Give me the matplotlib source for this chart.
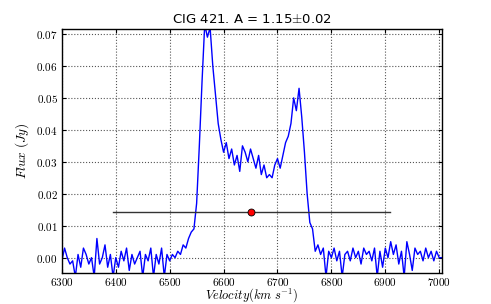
import numpy as np
import matplotlib
matplotlib.use('Agg')
import matplotlib.pyplot as plt
from matplotlib.ticker import FuncFormatter

plt.rcParams['mathtext.fontset'] = 'cm'

# HI profile, flux in mJy, one channel every 5 km/s starting at 6300 km/s
v_start = 6300
v_step = 5
flux_mjy = [
    -1, 3, 0, -2, -1, -6, 1, -3, 3, 1, -2, 0, -6, 6, -2, 0, 4, -3, 1, -6,   # 6300-6395
    0, -3, 2, -1, 3, -4, 1, -2, 0, 2, -6, 1, -1, 3, -6, 1, -2, 3, -6, 1,    # 6400-6495
    -1, 1, 0, 2, 1, 4, 3, 6, 8, 9,                                          # 6500-6545
    17, 35, 55, 73, 69, 72, 60, 51, 42, 37,                                 # 6550-6595
    33, 36, 31, 34, 29, 32, 27, 35, 33, 30, 34, 31, 28, 32, 26, 29, 25, 26, 25, 29,  # 6600-6695
    31, 28, 32, 36, 38, 42, 50, 46, 53, 44, 33, 20, 11, 9, 2, 4, 1, 3, -6, 2,        # 6700-6795
    0, 3, -1, 2, -6, 1, 2, -1, 3, 0, 2, -2, 3, 1, 2, -1, 3, -6, 2, -3,      # 6800-6895
    3, 0, 5, 1, 4, -2, 2, -6, 5, 1, -4, 3, 1, 2, -1, 3, 0, 2, -1, 2,        # 6900-6995
    0, 0,                                                                   # 7000-7005
]

# W20 width bar and central velocity
w_lo, w_hi = 6395, 6908
v_centre = 6651
bar_level = 0.0144
title = r'CIG 421. A = 1.15$\pm$0.02'

velocity = v_start + v_step * np.arange(len(flux_mjy))
flux = np.array(flux_mjy) / 1000.0

fig = plt.figure(figsize=(4.91, 3.04), dpi=100)
ax = fig.add_axes([0.126, 0.102, 0.774, 0.803])

ax.plot(velocity, flux, color='#0000ff', lw=1.0)
ax.plot([w_lo, w_hi], [bar_level, bar_level], color='#333333', lw=1.0)
ax.plot([v_centre], [bar_level], 'o', color='red', mec='black', mew=0.6, ms=5)

ax.set_xlim(6300, 7005)
ax.set_ylim(-0.0048, 0.0716)
ax.set_xticks(np.arange(6300, 7001, 100))
ax.set_yticks(np.arange(0, 0.071, 0.01))
ax.xaxis.set_major_formatter(FuncFormatter(lambda x, p: r'$%d$' % x))
ax.yaxis.set_major_formatter(FuncFormatter(lambda y, p: r'$%.2f$' % y))
ax.tick_params(direction='in', top=True, right=True, labelsize=8, length=3, pad=3)
ax.tick_params(axis='x', pad=2)
ax.grid(True, color='#555555', linestyle=':', lw=0.8)
for s in ax.spines.values():
    s.set_linewidth(1.0)

ax.set_xlabel(r'$Velocity (km\ s^{-1})$', fontsize=9, labelpad=-1)
ax.set_ylabel(r'$Flux\ (Jy)$', fontsize=9.5, labelpad=4)
ax.set_title(title, fontsize=9.5, pad=4)

fig.savefig('out.png', dpi=100)
